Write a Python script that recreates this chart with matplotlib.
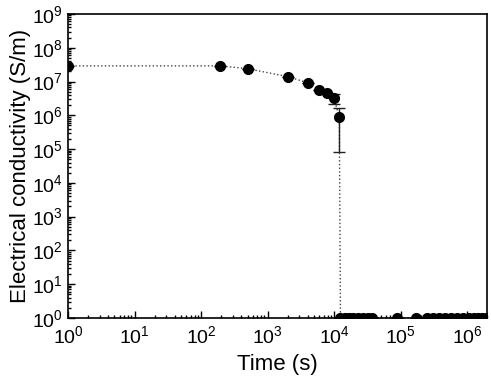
import numpy as np
import matplotlib.pyplot as plt
from matplotlib.ticker import LogLocator, NullFormatter

plt.rcParams['font.family'] = ['Liberation Sans', 'DejaVu Sans']

# conductivity over time
time_s = [1, 195, 500, 2000, 4000, 5900, 7900, 10000, 12000,
          12500, 14500, 16800, 19400, 23000, 27500, 32500, 37000,
          88000, 170000,
          250000, 310000, 380000, 470000, 575000, 710000, 870000,
          1070000, 1290000, 1480000, 1700000, 1950000]
sigma = [2.9e7, 2.9e7, 2.4e7, 1.4e7, 9.2e6, 5.8e6, 4.6e6, 3.2e6, 8.7e5,
         1, 1, 1, 1, 1, 1, 1, 1,
         1, 1,
         1, 1, 1, 1, 1, 1, 1,
         1, 1, 1, 1, 1]
sigma_err = [0, 0, 0, 0, 0, 0, 0, 1.1e6, 7.9e5] + [0] * 22

x_ticks = [10.0 ** i for i in range(7)]
y_ticks = [10.0 ** i for i in range(10)]

fig = plt.figure(figsize=(4.91, 3.77), dpi=100)
ax = fig.add_axes([0.1385, 0.1565, 0.8535, 0.8065])

ax.plot(time_s, sigma, linestyle=':', color='#444444', linewidth=1.0, zorder=1)
ax.errorbar(time_s, sigma, yerr=sigma_err, fmt='none', ecolor='#222222',
            elinewidth=1.0, capsize=4, capthick=1.0, zorder=2)
ax.plot(time_s, sigma, 'o', color='black', markersize=7, zorder=3)

ax.set_xscale('log')
ax.set_yscale('log')
ax.set_xticks(x_ticks)
ax.set_yticks(y_ticks)
ax.set_xlim(1, 2e6)
ax.set_ylim(1, 1e9)

ax.xaxis.set_minor_locator(LogLocator(base=10, subs=np.arange(2, 10), numticks=100))
ax.yaxis.set_minor_locator(LogLocator(base=10, subs=np.arange(2, 10), numticks=100))
ax.xaxis.set_minor_formatter(NullFormatter())
ax.yaxis.set_minor_formatter(NullFormatter())

ax.tick_params(which='both', direction='in', top=False, right=False,
               labelsize=14, width=1.0)
ax.tick_params(which='major', length=5)
ax.tick_params(which='minor', length=2.5)
ax.tick_params(axis='x', pad=5)

for sp in ax.spines.values():
    sp.set_linewidth(1.2)

ax.set_xlabel('Time (s)', fontsize=16, labelpad=5)
ax.set_ylabel('Electrical conductivity (S/m)', fontsize=16, labelpad=1)

fig.savefig('out.png', dpi=100)
